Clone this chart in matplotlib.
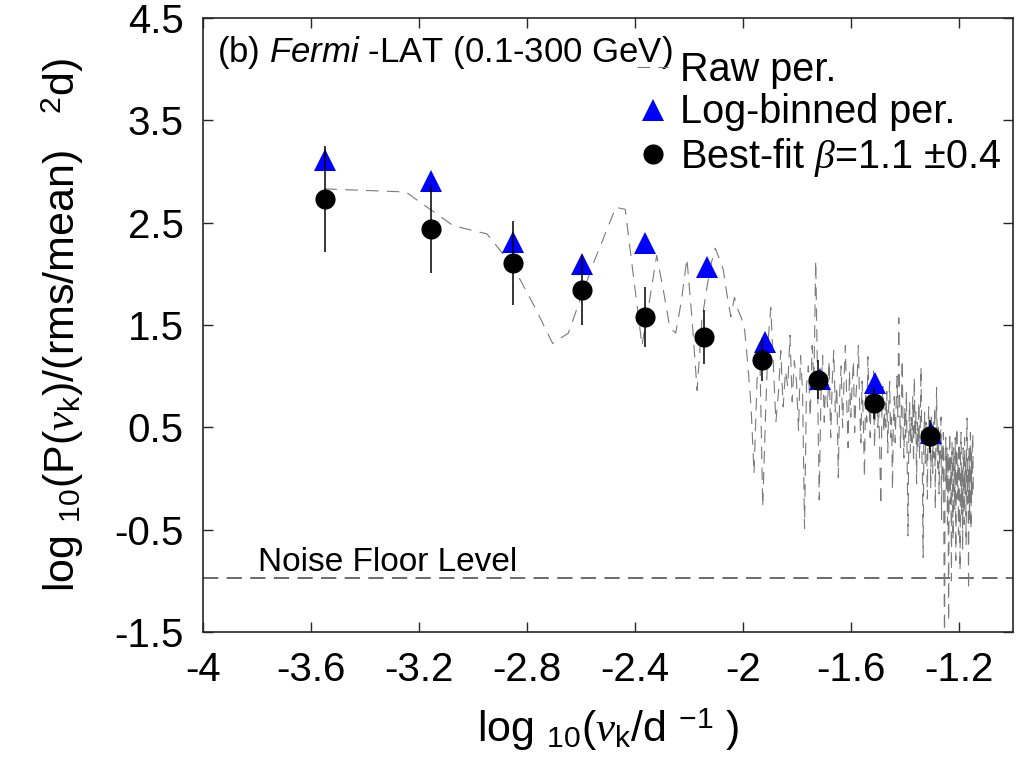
import numpy as np
import matplotlib
matplotlib.use("Agg")
import matplotlib.pyplot as plt

plt.rcParams['font.family'] = ['Liberation Sans', 'DejaVu Sans']
plt.rcParams['mathtext.fontset'] = 'custom'
plt.rcParams['mathtext.rm'] = 'Liberation Sans'
plt.rcParams['mathtext.it'] = 'Liberation Serif:italic'
plt.rcParams['mathtext.sf'] = 'Liberation Sans:italic'
plt.rcParams['axes.unicode_minus'] = False
plt.rcParams['lines.scale_dashes'] = False

# ---------------- data ----------------
# raw periodogram: Fourier frequencies k / T (T = light-curve baseline, days)
baseline_days = 3550.0
raw_k = np.arange(1, 254)
raw_logP = [
    2.83, 2.80, 2.47, 2.39, 2.07, 1.68, 1.32, 1.42, 1.80, 2.13,
    2.40, 2.65, 2.63, 1.94, 1.30, 1.74, 2.18, 1.84, 1.48, 1.42,
    1.74, 2.15, 1.55, 0.86, 1.55, 1.84, 2.09, 2.25, 2.15, 2.04,
    1.79, 1.58, 1.77, 1.65, 1.57, 1.45, 1.11, 0.72, 0.05, 0.95,
    1.20, -0.28, 0.60, 1.35, 1.67, 1.10, 0.55, 0.83, 1.25, 0.70,
    1.05, 0.90, 1.40, 0.75, 1.15, 0.95, 0.47, 1.20, 0.85, -0.49,
    0.90, 1.10, 0.60, 1.30, 0.95, 2.13, 1.00, -0.21, 0.80, 1.20,
    0.55, 1.05, 0.70, 1.15, 0.40, 0.95, 1.25, 0.65, 0.90, 0.01,
    0.85, 1.10, 0.50, 0.95, 1.30, 0.75, 0.30, 1.05, 0.60, 0.90,
    1.15, 0.45, 0.80, 1.00, 1.30, 0.70, 0.35, 0.95, 0.60, 0.01,
    0.85, 0.55, 1.19, 0.75, 0.40, 0.90, 0.65, 1.05, 0.30, 0.80,
    0.95, 0.50, 0.70, 0.20, -0.26, 0.65, 0.90, 0.45, 0.75, 0.50,
    0.85, 0.25, 0.70, 0.95, 0.40, 0.60, -0.11, 0.55, 0.80, 0.35,
    0.70, 1.00, 0.60, 1.57, 0.75, 0.30, 0.65, 1.16, 0.50, 0.20,
    0.70, 0.40, 0.85, 0.10, -0.56, 0.45, 0.75, 0.25, 0.60, 0.35,
    0.80, 0.15, 0.99, 0.40, 0.65, -0.05, 0.55, 0.30, 0.75, 0.20,
    0.50, 1.09, 0.35, 0.00, -0.77, 0.40, 0.65, 0.15, 0.55, 0.30,
    -0.20, 0.45, 0.70, 0.25, 0.50, -0.10, 0.60, 0.35, 0.05, 0.55,
    0.20, 0.70, -0.30, 0.45, 0.89, 0.30, 0.10, 0.50, -0.15, 0.40,
    0.20, 0.60, -0.40, 0.35, 0.05, 0.45, -0.60, -1.70, 0.20, 0.40,
    -0.10, 0.30, -0.45, 0.25, -1.40, 0.15, 0.45, -0.25, 0.20, -1.00,
    0.35, 0.05, -0.60, 0.30, 0.10, -0.30, 0.40, -0.80, 0.20, 0.50,
    -0.20, 0.15, -0.55, 0.35, 0.00, -0.90, 0.25, 0.45, -0.35, 0.10,
    -0.70, 0.30, 0.05, -0.45, 0.40, -0.15, 0.20, -0.65, 0.35, 0.59,
    -0.25, 0.10, -1.09, 0.30, -0.40, 0.15, 0.45, -0.50, 0.25, -0.20,
    0.35, 0.44, -0.11,
]
raw_logf = np.log10(raw_k / baseline_days)

# log-binned periodogram (blue triangles)
tri_x = [-3.548, -3.156, -2.852, -2.596, -2.363, -2.133, -1.919, -1.715, -1.511, -1.304]
tri_y = [3.11, 2.91, 2.31, 2.10, 2.30, 2.07, 1.33, 0.97, 0.93, 0.44]

# best-fit model points (black circles) with errors
fit_x = [-3.548, -3.156, -2.852, -2.596, -2.363, -2.144, -1.930, -1.722, -1.515, -1.307]
fit_y = [2.73, 2.44, 2.105, 1.84, 1.577, 1.382, 1.162, 0.966, 0.737, 0.414]
fit_err = [0.52, 0.43, 0.41, 0.34, 0.29, 0.26, 0.21, 0.19, 0.16, 0.16]

noise_floor = -0.97

xticks = [-4, -3.6, -3.2, -2.8, -2.4, -2, -1.6, -1.2]
xticklabels = ['-4', '-3.6', '-3.2', '-2.8', '-2.4', '-2', '-1.6', '-1.2']
yticks = [-1.5, -0.5, 0.5, 1.5, 2.5, 3.5, 4.5]
yticklabels = ['-1.5', '-0.5', '0.5', '1.5', '2.5', '3.5', '4.5']

# ---------------- figure ----------------
fig = plt.figure(figsize=(10.25, 7.68), dpi=100)
ax = fig.add_axes([203/1025, 136/768, 810/1025, 614/768])

raw_line, = ax.plot(raw_logf, raw_logP, color='#7a7a7a', lw=0.8,
                    dashes=(9, 6), zorder=2)
ax.axhline(noise_floor, color='#444444', lw=1.1, dashes=(11, 6), zorder=1)

tri, = ax.plot(tri_x, tri_y, linestyle='none', marker='^', ms=16.5,
               color='#0000ff', markeredgewidth=0, zorder=3)
ax.errorbar(fit_x, fit_y, yerr=fit_err, fmt='none', ecolor='black',
            elinewidth=1.1, capsize=0, zorder=4)
circ, = ax.plot(fit_x, fit_y, linestyle='none', marker='o', ms=14.5,
                color='black', markeredgewidth=0, zorder=5)

ax.set_xlim(-4, -1)
ax.set_ylim(-1.5, 4.5)
ax.set_xticks(xticks)
ax.set_xticklabels(xticklabels)
ax.set_yticks(yticks)
ax.set_yticklabels(yticklabels)
ax.tick_params(direction='in', length=7, width=1.0, top=True, right=True,
               labelsize=29, colors='#262626', pad=14)
ax.tick_params(axis='both', labelcolor='black')
for s in ax.spines.values():
    s.set_linewidth(1.2)
    s.set_color('#262626')

ax.set_xlabel(r'log $_{10}$($\nu_{\mathrm{k}}$/d $^{-1}$ )', fontsize=31, labelpad=12)
ax.set_ylabel(r'log $_{10}$(P($\nu_{\mathrm{k}}$)/(rms/mean)   $^{2}$d)', fontsize=31, labelpad=20)

ax.text(0.017, 0.928, r'(b) $\mathsf{Fermi}$ -LAT (0.1-300 GeV)', transform=ax.transAxes,
        fontsize=25, va='baseline', ha='left')
ax.text(0.068, 0.099, 'Noise Floor Level', transform=ax.transAxes, fontsize=24,
        va='baseline', ha='left')

leg = ax.legend([raw_line, tri, circ],
                ['Raw per.', 'Log-binned per.', r'Best-fit $\beta$=1.1 ±0.4'],
                loc='upper left', bbox_to_anchor=(0.516, 0.972), frameon=False,
                fontsize=28.5, handlelength=0.8, handletextpad=0.3,
                labelspacing=0.11, borderaxespad=0)

fig.savefig('out.png', dpi=100)
